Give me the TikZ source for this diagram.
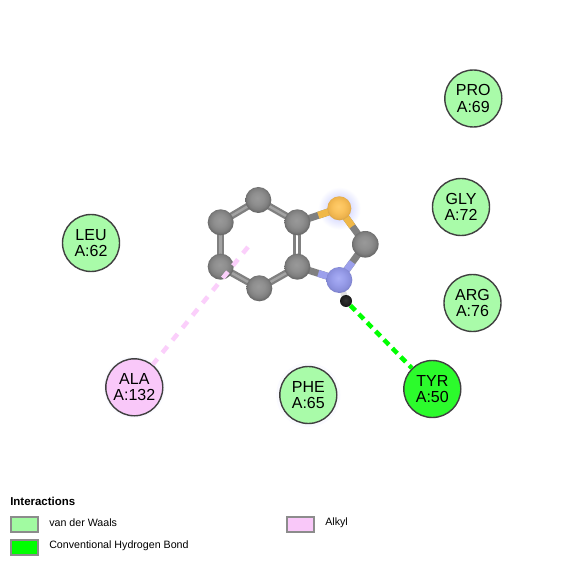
\documentclass[tikz,border=0pt]{standalone}
\usepackage{fontspec}
\setmainfont{Liberation Sans}
\usetikzlibrary{calc}
\pgfdeclareradialshading{atomgray}{\pgfpoint{-2bp}{4bp}}{rgb(0bp)=(.60,.60,.60);rgb(12bp)=(.56,.56,.56);rgb(20bp)=(.50,.50,.50);rgb(26bp)=(.40,.40,.40);rgb(32bp)=(.32,.32,.32);rgb(50bp)=(.32,.32,.32)}
\pgfdeclareradialshading{atomsulfur}{\pgfpoint{-2bp}{4bp}}{rgb(0bp)=(1,.80,.42);rgb(12bp)=(.98,.76,.36);rgb(22bp)=(.93,.70,.30);rgb(32bp)=(.72,.54,.24);rgb(50bp)=(.72,.54,.24)}
\pgfdeclareradialshading{atomnitrogen}{\pgfpoint{-2bp}{4bp}}{rgb(0bp)=(.66,.68,.96);rgb(12bp)=(.60,.62,.92);rgb(22bp)=(.54,.56,.86);rgb(32bp)=(.40,.41,.68);rgb(50bp)=(.40,.41,.68)}
\pgfdeclareradialshading{atomhydrogen}{\pgfpoint{-2bp}{4bp}}{rgb(0bp)=(.2,.2,.2);rgb(20bp)=(.12,.12,.12);rgb(32bp)=(.05,.05,.05);rgb(50bp)=(.05,.05,.05)}
\pgfdeclareradialshading{halo}{\pgfpointorigin}{rgb(0bp)=(.84,.85,1);rgb(13bp)=(.87,.88,1);rgb(25bp)=(1,1,1);rgb(50bp)=(1,1,1)}
\definecolor{vdw}{HTML}{A9FBA9}
\definecolor{hbond}{HTML}{2CFB2C}
\definecolor{alkyl}{HTML}{F9C8F9}
\definecolor{alkyldash}{HTML}{FBCFFB}
\definecolor{sbond}{HTML}{F0B848}
\definecolor{nbond}{HTML}{9CA0EC}
\tikzset{
  x=0.75pt,y=-0.75pt,
  atom/.style={circle,inner sep=0pt,minimum size=26pt*0.75},
  carbon/.style={atom,shading=atomgray},
  sulfur/.style={atom,minimum size=24pt*0.75,shading=atomsulfur},
  nitrogen/.style={atom,shading=atomnitrogen},
  hydrogen/.style={atom,minimum size=12pt*0.75,shading=atomhydrogen},
  bondline/.style={line width=7pt*0.75,draw=black!50},
  bondlight/.style={line width=2.5pt*0.75,draw=black!36},
  residue/.style={circle,inner sep=0pt,minimum size=57pt*0.75,draw=black!75,line width=1.4pt*0.75,align=center,font=\fontsize{12}{12.2}\selectfont},
  resvdw/.style={residue,fill=vdw},
  resh/.style={residue,fill=hbond},
  resalk/.style={residue,fill=alkyl},
  swatch/.style={draw=black!45,line width=2pt*0.75,minimum width=27pt*0.75,minimum height=15pt*0.75,inner sep=0pt},
  legendtext/.style={anchor=west,inner sep=0pt,font=\fontsize{8}{9}\selectfont},
  halocircle/.style={circle,inner sep=0pt,fill=blue!2},
}
\begin{document}
\begin{tikzpicture}
\useasboundingbox (0,0) rectangle (565,566);
\fill[white] (0,0) rectangle (565,566);
% halos
\node[halocircle,minimum size=48pt] at (308.3,395) {};
\node[halocircle,minimum size=46pt] at (134.3,387.3) {};
\node[circle,inner sep=0pt,minimum size=32pt,shading=halo] at (339.3,208.3) {};
% atom positions
\coordinate (c1p) at (258.3,200);
\coordinate (c2p) at (220.7,222.3);
\coordinate (c3p) at (220.7,266.7);
\coordinate (c4p) at (259.3,288.3);
\coordinate (c5p) at (297.3,266.7);
\coordinate (c6p) at (297.3,222.3);
\coordinate (sp) at (339.3,208.3);
\coordinate (c7p) at (365.3,244.3);
\coordinate (np) at (339.3,280);
\coordinate (hp) at (346,301);
% bonds
\foreach \a/\b in {c1p/c2p,c2p/c3p,c3p/c4p,c4p/c5p,c6p/c1p}{
  \draw[bondline] (\a) -- (\b);
  \draw[bondlight] (\a) -- (\b);
}
\draw[line width=3pt*0.75,draw=black!50] ($(c5p)+(-2.6,0)$) -- ($(c6p)+(-2.6,0)$);
\draw[line width=3pt*0.75,draw=black!50] ($(c5p)+(2.6,0)$) -- ($(c6p)+(2.6,0)$);
\draw[bondline] (c6p) -- (sp);
\draw[line width=7pt*0.75,draw=sbond] (sp) -- ($(c6p)!0.5!(sp)$);
\draw[bondline] (c7p) -- (sp);
\draw[line width=7pt*0.75,draw=sbond] (sp) -- ($(c7p)!0.5!(sp)$);
\draw[bondline] (c5p) -- (np);
\draw[line width=7pt*0.75,draw=nbond] (np) -- ($(c5p)!0.5!(np)$);
\draw[bondline] (c7p) -- (np);
\draw[line width=7pt*0.75,draw=nbond] (np) -- ($(c7p)!0.5!(np)$);
\draw[line width=6pt*0.75,draw=black!12] (np) -- (hp);
% atoms
\node[carbon] (c1) at (c1p) {};
\node[carbon] (c2) at (c2p) {};
\node[carbon] (c3) at (c3p) {};
\node[carbon] (c4) at (c4p) {};
\node[carbon] (c5) at (c5p) {};
\node[carbon] (c6) at (c6p) {};
\node[sulfur] (s) at (sp) {};
\node[carbon,minimum size=26.6pt*0.75] (c7) at (c7p) {};
\node[nitrogen] (n) at (np) {};
\node[hydrogen] (h) at (hp) {};
% residues
\node[resvdw] (pro) at (473.3,98.5) {PRO\\A:69};
\node[resvdw] (gly) at (461,207) {GLY\\A:72};
\node[resvdw] (arg) at (472.5,303) {ARG\\A:76};
\node[resvdw] (leu) at (91,243) {LEU\\A:62};
\node[resalk] (ala) at (134.3,387.3) {ALA\\A:132};
\node[resvdw] (phe) at (308.3,395) {PHE\\A:65};
\node[resh] (tyr) at (432.3,389) {TYR\\A:50};
% interactions
\coordinate (alkend) at (248,247);
\draw[draw=alkyldash,line width=4.5pt*0.75,dash pattern=on 8pt*0.75 off 8pt*0.75] (alkend) -- (ala);
\draw[draw=green,line width=4.5pt*0.75,dash pattern=on 7pt*0.75 off 5pt*0.75] (h) -- (tyr);
% legend
\node[anchor=west,inner sep=0pt,font=\fontsize{8.6}{10}\selectfont\bfseries] (ltitle) at (10,501) {Interactions};
\node[swatch,fill=vdw!95!green] (s1) at (24,524.5) {};
\node[swatch,fill=green] (s2) at (24,547.5) {};
\node[swatch,fill=alkyl] (s3) at (300,524.5) {};
\node[legendtext] (t1) at (49,523) {van der Waals};
\node[legendtext] (t2) at (49,546) {Conventional Hydrogen Bond};
\node[legendtext] (t3) at (325,523) {Alkyl};
\end{tikzpicture}
\end{document}
